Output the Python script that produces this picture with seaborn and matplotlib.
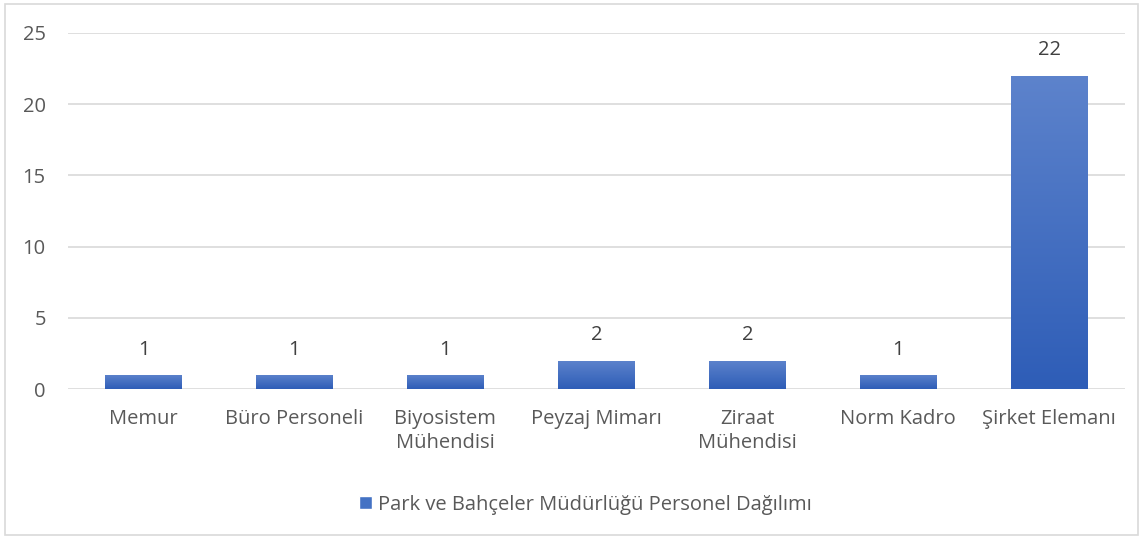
from matplotlib import pyplot as plt
from matplotlib.patches import Rectangle
import matplotlib.colors as mcolors
import numpy as np
import pandas as pd
import seaborn as sns

categories = ['Memur', 'Büro Personeli', 'Biyosistem\nMühendisi', 'Peyzaj Mimarı',
              'Ziraat\nMühendisi', 'Norm Kadro', 'Şirket Elemanı']
values = [1, 1, 1, 2, 2, 1, 22]
series_name = 'Park ve Bahçeler Müdürlüğü Personel Dağılımı'

df = pd.DataFrame({'kategori': categories, 'sayi': values})

sns.set_style('white')
plt.rcParams['font.family'] = ['Open Sans', 'DejaVu Sans']
text_color = '#595959'
fs = 14.5

fig = plt.figure(figsize=(11.43, 5.39), dpi=100)
ax = fig.add_axes([0.0595, 0.278, 0.9245, 0.661])

sns.barplot(data=df, x='kategori', y='sayi', color='#4472C4', width=0.51,
            ax=ax, zorder=3, label=series_name)

# gradient fill for each bar (Excel style)
grad_cmap = mcolors.LinearSegmentedColormap.from_list('g', ['#2E5DB7', '#5D83CC'])
grad = np.linspace(0, 1, 256).reshape(-1, 1)
for bar in ax.patches:
    x0, y0 = bar.get_x(), bar.get_y()
    w, h = bar.get_width(), bar.get_height()
    bar.set_facecolor('none')
    bar.set_edgecolor('none')
    im = ax.imshow(grad, cmap=grad_cmap, origin='lower', aspect='auto',
                   extent=[x0, x0 + w, y0, y0 + h], zorder=3)
    im.set_clip_path(bar)
    ax.text(x0 + w / 2, h + 1.78, str(int(h)), ha='center', va='center',
            fontsize=fs, color='#404040')

ax.set_xlim(-0.5, len(categories) - 0.5)
ax.set_ylim(0, 25)
ax.set_yticks([0, 5, 10, 15, 20, 25])
ax.yaxis.grid(True, color='#d9d9d9', linewidth=1.2, zorder=0)
ax.set_axisbelow(True)
for s in ax.spines.values():
    s.set_visible(False)
ax.tick_params(axis='both', length=0, labelsize=fs, labelcolor=text_color)
ax.tick_params(axis='x', pad=14)
ax.tick_params(axis='y', pad=16)
for lbl in ax.get_xticklabels():
    lbl.set_linespacing(1.3)
ax.set_xlabel('')
ax.set_ylabel('')

handle = Rectangle((0, 0), 1, 1, facecolor='#4472C4')
fig.legend([handle], [series_name], loc='center', bbox_to_anchor=(0.512, 0.064),
           frameon=False, fontsize=fs, labelcolor=text_color,
           handlelength=0.65, handleheight=0.65, handletextpad=0.3)
if ax.get_legend() is not None:
    ax.get_legend().remove()

# chart border
fig.patches.append(Rectangle((0.004, 0.007), 0.992, 0.986, transform=fig.transFigure,
                             fill=False, edgecolor='#d9d9d9', linewidth=1.2))

plt.savefig('out.png', dpi=100)
